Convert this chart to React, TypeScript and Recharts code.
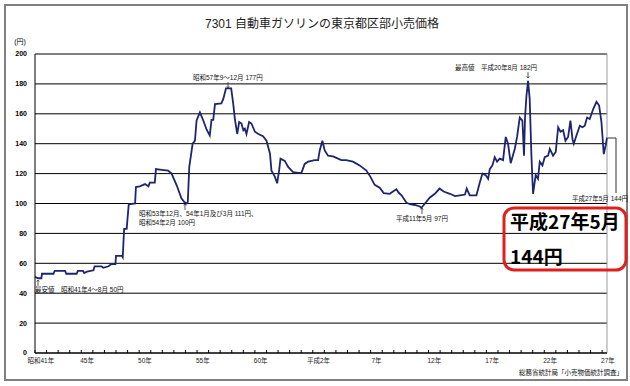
import { LineChart, Line, XAxis, YAxis, CartesianGrid, ReferenceLine } from "recharts";

// 年（小数で月を表す）と価格（円）
const times = [
  1966.0, 1966.25, 1966.55, 1966.6, 1967.6, 1967.7, 1968.6, 1968.7, 1969.6, 1969.7,
  1970.15, 1970.25, 1970.5, 1971.05, 1971.15, 1971.75, 1971.9, 1972.35, 1972.6, 1972.95,
  1973.0, 1973.5, 1973.58, 1973.7, 1973.92, 1974.1, 1974.65, 1974.72, 1975.05, 1975.5,
  1975.8, 1975.92, 1976.35, 1976.45, 1976.95, 1977.5, 1977.8, 1978.25, 1978.65, 1978.9,
  1979.1, 1979.2, 1979.33, 1979.62, 1979.82, 1979.96, 1980.25, 1980.54, 1980.82, 1981.1,
  1981.25, 1981.4, 1981.55, 1982.1, 1982.27, 1982.5, 1982.67, 1982.95, 1983.13, 1983.27,
  1983.47, 1983.64, 1983.84, 1984.0, 1984.13, 1984.27, 1984.5, 1984.7, 1985.0, 1985.3,
  1985.7, 1986.0, 1986.3, 1986.43, 1986.72, 1986.92, 1987.09, 1987.21, 1987.58, 1987.87,
  1988.3, 1988.73, 1989.02, 1989.3, 1989.6, 1990.17, 1990.46, 1990.6, 1990.83, 1991.03,
  1991.32, 1991.75, 1992.04, 1992.47, 1992.9, 1993.47, 1994.05, 1994.63, 1994.97, 1995.35,
  1995.78, 1996.13, 1996.65, 1996.93, 1997.22, 1997.45, 1997.67, 1998.1, 1998.4, 1998.82,
  1999.25, 1999.37, 1999.69, 2000.12, 2000.55, 2000.95, 2001.3, 2001.85, 2002.29, 2002.72,
  2003.15, 2003.3, 2003.56, 2004.14, 2004.43, 2004.66, 2004.94, 2005.15, 2005.29, 2005.52,
  2005.72, 2005.92, 2006.15, 2006.44, 2006.67, 2006.87, 2007.1, 2007.45, 2007.65, 2007.88,
  2008.11, 2008.25, 2008.34, 2008.46, 2008.6, 2008.74, 2008.89, 2009.03, 2009.26, 2009.46,
  2009.61, 2009.84, 2010.04, 2010.33, 2010.48, 2010.76, 2010.99, 2011.2, 2011.4, 2011.63,
  2011.83, 2012.06, 2012.26, 2012.44, 2012.55, 2012.78, 2013.07, 2013.3, 2013.5, 2013.7,
  2013.93, 2014.22, 2014.51, 2014.74, 2014.94, 2015.14, 2015.31, 2015.42,
];

const prices = [
  51, 50, 50, 53, 53, 55, 55, 53, 53, 55,
  55, 53.5, 54.5, 55.3, 58, 58, 57, 58, 59.5, 59.5,
  65, 65, 64, 83, 83, 99.5, 100, 111, 111.5, 113,
  111.5, 114, 114, 123, 122.5, 122, 120, 112, 103.5, 101,
  100, 101, 124.5, 140, 142, 155.5, 161, 155.5, 149.5, 145.5,
  156, 156, 166.5, 167, 170, 177, 177, 177, 166.5, 156.5,
  146.5, 154.5, 153.5, 149, 150, 146.5, 154.5, 153.5, 148, 146.5,
  145, 142, 133.5, 122, 118, 113.5, 122, 130, 128.5, 124.5,
  121, 120.5, 120.5, 126.5, 128, 129, 129, 135.5, 142, 135.5,
  132, 131.5, 130.5, 129, 129, 128, 125.5, 122, 118, 112.5,
  110.5, 107, 106.5, 108, 109.5, 107, 105.5, 100.5, 99.5, 99,
  98, 97, 100, 104, 106.5, 110, 108, 106.5, 105, 105.5,
  106, 110, 105.5, 105.5, 114, 120, 119, 116.5, 123, 125.5,
  131, 128, 130, 129, 144.5, 140, 127, 136.5, 144.5, 157.5,
  155.5, 132, 157.5, 172, 182, 170, 132, 106.5, 119, 116.5,
  128, 125.5, 131, 132, 136.5, 132, 134.5, 151, 148, 149,
  142, 144.5, 155.5, 143, 140, 145.5, 152, 151, 152, 157.5,
  156.5, 163, 168, 165.5, 154.5, 133, 139, 144,
];

const yearTicks = Array.from({ length: 50 }, (_, i) => 1966 + i);
const yTicks = [0, 20, 40, 60, 80, 100, 120, 140, 160, 180, 200];
const xLabels: { [year: number]: string } = {
  1966: "昭和41年",
  1970: "45年",
  1975: "50年",
  1980: "55年",
  1985: "60年",
  1990: "平成2年",
  1995: "7年",
  2000: "12年",
  2005: "17年",
  2010: "22年",
  2015: "27年",
};

const X_MIN = 1966;
const X_MAX = 2015.42;
const PLOT_LEFT = 35;
const PLOT_RIGHT = 607;
const pxPerYear = (PLOT_RIGHT - PLOT_LEFT) / (X_MAX - X_MIN);

const data = times.map((t, i) => ({ t, price: prices[i] }));

const JP = "'Liberation Sans', 'Noto Sans CJK JP', sans-serif";

const XTick = (props: any) => {
  const { x, y, payload } = props;
  const label = xLabels[payload.value];
  return (
    <g>
      <line x1={x} y1={y} x2={x} y2={y - 3} stroke="#000" strokeWidth={1} />
      {label && (
        <text
          x={x + pxPerYear / 2}
          y={y + 10}
          textAnchor="middle"
          fontSize={6.5}
          fontFamily={JP}
          fill="#222"
        >
          {label}
        </text>
      )}
    </g>
  );
};

const Arrow = ({ x, y1, y2 }: { x: number; y1: number; y2: number }) => {
  const dir = y2 < y1 ? -1 : 1;
  return (
    <g stroke="#333" strokeWidth={0.8} fill="none">
      <line x1={x} y1={y1} x2={x} y2={y2} />
      <polyline points={`${x - 1.2},${y2 - dir * 1.6} ${x},${y2} ${x + 1.2},${y2 - dir * 1.6}`} />
    </g>
  );
};

const noteStyle = { fontSize: 6.5, fontFamily: JP, fill: "#111" };

export default function App() {
  return (
    <div
      style={{
        position: "absolute",
        left: 0,
        top: 0,
        width: 630,
        height: 386,
        background: "#fff",
      }}
    >
      <LineChart
        width={630}
        height={386}
        data={data}
        margin={{ top: 54, right: 630 - PLOT_RIGHT, bottom: 0, left: 0 }}
      >
        <CartesianGrid horizontal vertical={false} stroke="#000" strokeWidth={1} />
        <XAxis
          dataKey="t"
          type="number"
          domain={[X_MIN, X_MAX]}
          ticks={yearTicks}
          interval={0}
          height={33}
          tickSize={0}
          tickMargin={0}
          tickLine={false}
          axisLine={{ stroke: "#000" }}
          tick={<XTick />}
        />
        <YAxis
          type="number"
          domain={[0, 200]}
          ticks={yTicks}
          interval={0}
          width={PLOT_LEFT}
          tickSize={0}
          tickMargin={8}
          tickLine={false}
          axisLine={{ stroke: "#000" }}
          tick={{ fontSize: 7, fontFamily: "'Liberation Sans', sans-serif", fontWeight: "bold", fill: "#000" }}
        />
        <ReferenceLine x={X_MAX} stroke="#999" strokeWidth={1} />
        <Line
          type="linear"
          dataKey="price"
          stroke="#1f2470"
          strokeWidth={1.8}
          dot={false}
          isAnimationActive={false}
        />
      </LineChart>
      <svg
        width={630}
        height={386}
        style={{ position: "absolute", left: 0, top: 0, pointerEvents: "none" }}
      >
        <rect x={5} y={5} width={622} height={375} fill="none" stroke="#808080" strokeWidth={2} />
        <text x={322} y={28} textAnchor="middle" fontSize={12} fontFamily={JP} fill="#222">
          7301 自動車ガソリンの東京都区部小売価格
        </text>
        <text x={20} y={44} textAnchor="middle" fontSize={7} fontFamily={JP} fill="#000">
          (円)
        </text>

        <text x={455} y={70} {...noteStyle}>最高値　平成20年8月 182円</text>
        <Arrow x={528} y1={72} y2={78} />

        <text x={193} y={80} {...noteStyle}>昭和57年9～12月 177円</text>
        <Arrow x={228} y1={82} y2={88} />

        <text x={139} y={216} {...noteStyle}>昭和53年12月、54年1月及び3月 111円、</text>
        <text x={139} y={225} {...noteStyle}>昭和54年2月 100円</text>
        <Arrow x={185} y1={210} y2={204} />

        <text x={396} y={221} {...noteStyle}>平成11年5月 97円</text>
        <Arrow x={422} y1={214} y2={208} />

        <text x={35} y={292} {...noteStyle}>最安値　昭和41年4～8月 50円</text>
        <Arrow x={38} y1={286} y2={280} />

        <polyline points="608,138 616,138 616,193" fill="none" stroke="#333" strokeWidth={1} />
        <text x={572} y={201} {...noteStyle}>平成27年5月 144円</text>

        <rect x={504} y={208} width={122} height={62} rx={10} fill="none" stroke="#e0201c" strokeWidth={3} />
        <text x={510} y={229} fontSize={19} fontWeight="bold" fontFamily="'Noto Sans CJK JP', sans-serif" fill="#000">
          平成27年5月
        </text>
        <text x={510} y={264} fontSize={19} fontWeight="bold" fontFamily="'Noto Sans CJK JP', sans-serif" fill="#000">
          144円
        </text>

        <text x={623} y={375} textAnchor="end" {...noteStyle}>総務省統計局「小売物価統計調査」</text>
      </svg>
    </div>
  );
}
